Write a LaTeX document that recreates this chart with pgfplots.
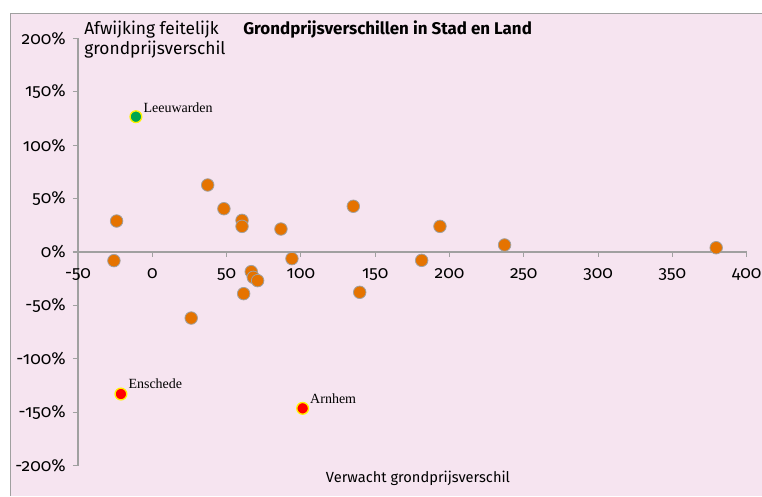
\documentclass[border=0pt]{standalone}
\usepackage{fontspec}
\setmainfont{Fira Sans}[Numbers=OldStyle]
\newfontfamily\seriffont{Liberation Serif}
\usepackage{pgfplots}
\pgfplotsset{compat=1.18}
\definecolor{bgpink}{RGB}{246,228,240}
\definecolor{dotorange}{RGB}{229,115,0}
\definecolor{dotgreen}{RGB}{0,166,80}
\definecolor{axgray}{RGB}{160,160,160}
\begin{document}
\begin{tikzpicture}[x=0.75pt,y=0.75pt]
\path[use as bounding box] (0,0) rectangle (762,496);
\fill[bgpink] (10,0) rectangle (762,483);
\draw[axgray, line width=1pt] (10.5,0) -- (10.5,482.5) -- (762,482.5);
\begin{axis}[
  at={(114.2pt,183pt)}, anchor=origin,
  scale only axis, width=501.5pt, height=320.6pt,
  xmin=-50, xmax=400, ymin=-200, ymax=200,
  axis x line=middle, axis y line=left,
  axis line style={axgray, -, line width=0.8pt},
  tick style={axgray, line width=0.8pt},
  tick align=outside, major tick length=3.75pt,
  hide obscured x ticks=false, hide obscured y ticks=false,
  xtick={-50,0,...,400}, ytick={-200,-150,...,200},
  xticklabel={\pgfmathprintnumber[assume math mode=true]{\tick}},
  yticklabel={\pgfmathprintnumber[assume math mode=true]{\tick}\%},
  xticklabel style={font=\fontsize{13}{15}\selectfont, yshift=-5pt},
  yticklabel style={font=\fontsize{13}{15}\selectfont, xshift=-2pt},
  clip=false,
]
\addplot[only marks, mark=*, mark size=4.7pt, mark options={fill=dotorange, draw=axgray, line width=0.6pt}] coordinates {
(-24,29) (-25.8,-8.1) (37.3,62.7) (48.2,40.5) (60.4,29.6) (60.4,24)
(86.6,21.5) (94,-6.2) (66.6,-18.4) (68,-23.7) (70.9,-26.8) (61.5,-39)
(26.2,-61.8) (135.3,42.8) (139.6,-37.7) (193.6,24) (181.3,-7.8)
(237.1,6.6) (379.5,4)
};
\addplot[only marks, mark=*, mark size=4.4pt, mark options={fill=dotgreen, draw=yellow, line width=1pt}] coordinates {(-11,126.6)};
\addplot[only marks, mark=*, mark size=4.4pt, mark options={fill=red, draw=yellow, line width=1pt}] coordinates {(-21.1,-132.9) (101.2,-146.3)};
\node[anchor=south west, inner sep=0, font=\seriffont\fontsize{10.5}{12}\selectfont] at (axis cs:-11,126.6) [xshift=5.5pt, yshift=3pt] {Leeuwarden};
\node[anchor=south west, inner sep=0, font=\seriffont\fontsize{10.5}{12}\selectfont] at (axis cs:-21.1,-132.9) [xshift=5.5pt, yshift=3.5pt] {Enschede};
\node[anchor=south west, inner sep=0, font=\seriffont\fontsize{10.5}{12}\selectfont] at (axis cs:101.2,-146.3) [xshift=5.5pt, yshift=3.5pt] {Arnhem};
\end{axis}
\node[anchor=north west, inner sep=0, align=left, font=\fontsize{13}{15}\selectfont] at (84,475) {Afwijking feitelijk\\grondprijsverschil};
\node[anchor=west, inner sep=0, font=\bfseries\fontsize{12.7}{14}\selectfont] at (243,466) {Grondprijsverschillen in Stad en Land};
\node[anchor=center, inner sep=0, font=\fontsize{11}{12}\selectfont] at (418,18) {Verwacht grondprijsverschil};
\end{tikzpicture}
\end{document}
